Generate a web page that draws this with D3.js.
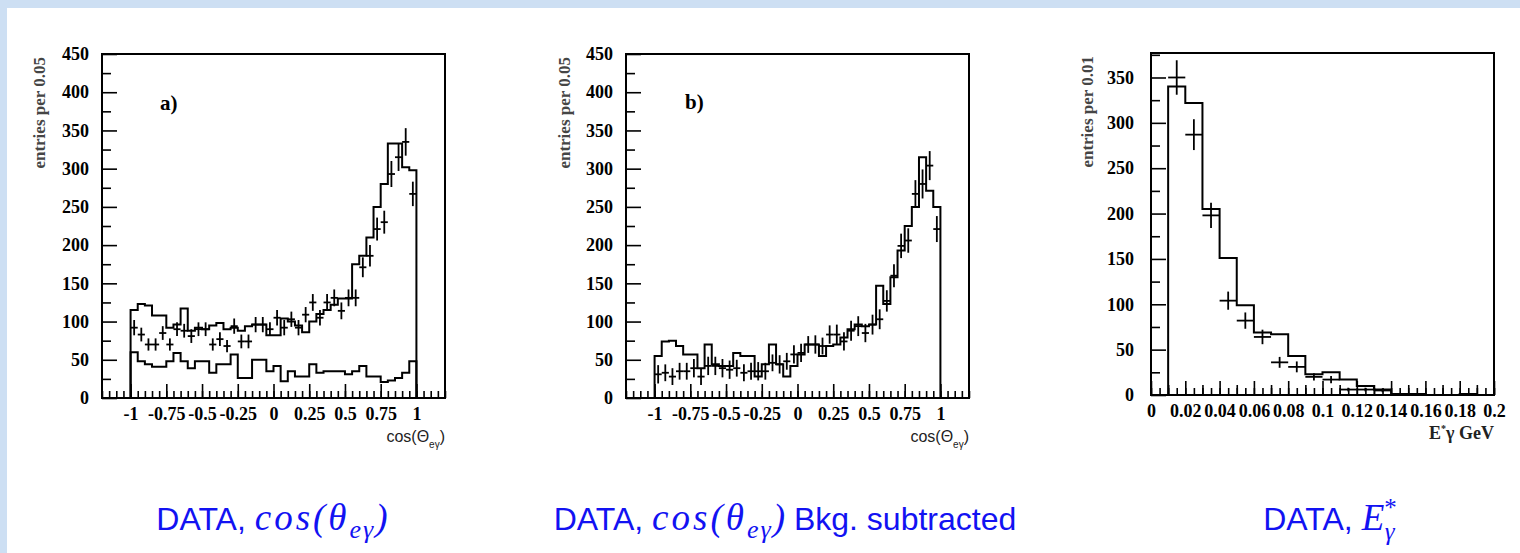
<!DOCTYPE html>
<html>
<head>
<meta charset="utf-8">
<script src="https://cdnjs.cloudflare.com/ajax/libs/d3/7.8.5/d3.min.js"></script>
<style>
  html, body { margin: 0; padding: 0; background: #fff; }
  svg { display: block; }
  .tick text { font-family: "Liberation Serif", serif; font-weight: bold; font-size: 18px; fill: #000; }
  .tick line { stroke: #000; stroke-width: 1.6; }
</style>
</head>
<body>
<svg id="chart" width="1520" height="553"></svg>
<script>
// ---- panel a) cos(theta_e gamma): 40 bins of 0.05 starting at -1
const cosBinLo = -1;
const cosBinW = 0.05;
const mcTotalA = [115,123,121,108,108,92,96,117,88,92, 90,95,98,90,92,88,94,96,96,82,
                  82,104,100,95,86,100,110,115,122,130, 130,175,186,210,250,280,333,333,302,298];
const bkgA = [60,48,44,41,41,48,59,48,39,48, 48,33,44,44,57,26,26,50,50,35,
              42,22,35,28,28,44,33,35,35,35, 31,35,42,28,28,21,23,26,33,48];
const dataA = [92,83,70,70,85,70,90,88,81,90, 90,70,77,68,94,74,74,96,96,90,
               105,92,103,92,109,125,105,125,131,114, 131,131,171,186,221,230,293,315,335,267];
const errA = [10,9,8,8,9,8,9,9,9,9, 9,8,9,8,10,9,9,10,10,9,
              10,10,10,10,10,11,10,11,11,11, 11,11,13,14,15,15,17,18,18,16];

// ---- panel b) background subtracted
const mcB = [55,74,75,68,57,57,39,70,44,42, 42,59,55,55,28,44,70,44,28,42,
             57,70,70,55,68,70,79,90,96,94, 96,147,123,158,193,225,250,315,271,250];
const dataB = [31,33,28,35,35,39,28,42,42,39, 37,39,33,35,35,35,46,44,48,57,
               59,70,70,68,83,83,74,88,94,85, 96,103,127,160,199,206,267,280,304,221];
const errB = [12,11,11,11,11,12,11,12,12,12, 12,11,11,11,12,11,11,12,11,12,
              12,11,12,11,12,13,12,13,13,12, 13,13,14,15,16,16,18,19,19,17];

// ---- panel c) E*gamma: 20 bins of 0.01 starting at 0
const eBinLo = 0;
const eBinW = 0.01;
const mcC = [0,340,322,205,151,99,69,67,43,23, 25,17,10,6,1,1,0,0,1,0];
const dataC = [null,350,287,198,104,82,64,36,31,20, 17,6,6,5,null,null,null,null,null,null];
const errC = [null,19,17,14,10,9,8,6,6,4, 4,2,2,2,null,null,null,null,null,null];

// ---- ticks and labels
const cosTicks = [-1,-0.75,-0.5,-0.25,0,0.25,0.5,0.75,1];
const cosYTicks = [0,50,100,150,200,250,300,350,400,450];
const eTicks = [0,0.02,0.04,0.06,0.08,0.1,0.12,0.14,0.16,0.18,0.2];
const eYTicks = [0,50,100,150,200,250,300,350];
const captions = ["DATA, ", "Bkg. subtracted"];

const svg = d3.select("#chart");

// slide background: light blue strip on top and left
svg.append("rect").attr("width", 1520).attr("height", 553).attr("fill", "#cddff3");
svg.append("rect").attr("x", 7).attr("y", 8).attr("width", 1513).attr("height", 545).attr("fill", "#fff");

function histPath(x, y, lo, w, vals) {
  const pts = [[lo, 0]];
  vals.forEach((v, i) => pts.push([lo + i * w, v]));
  pts.push([lo + vals.length * w, vals[vals.length - 1]]);
  pts.push([lo + vals.length * w, 0]);
  return d3.line().x(d => x(d[0])).y(d => y(d[1])).curve(d3.curveStepAfter)(pts);
}

function drawPanel(p) {
  const g = svg.append("g").attr("transform", `translate(${p.left},${p.top})`);
  const x = d3.scaleLinear().domain(p.xDomain).range([0, p.w]);
  const y = d3.scaleLinear().domain(p.yDomain).range([p.h, 0]);

  // minor / medium ticks first
  p.xMinor.forEach(m => {
    g.append("g").attr("transform", `translate(0,${p.h})`)
      .call(d3.axisBottom(x).tickValues(m.values).tickSize(-m.len).tickSizeOuter(0).tickFormat(""))
      .call(a => a.select(".domain").remove());
  });
  g.append("g").attr("transform", `translate(0,${p.h})`)
    .call(d3.axisBottom(x).tickValues(p.xTicks).tickSize(-14).tickSizeOuter(0).tickPadding(9).tickFormat(d => String(d)))
    .call(a => a.select(".domain").remove());

  g.append("g")
    .call(d3.axisLeft(y).tickValues(p.yMinor).tickSize(-9).tickSizeOuter(0).tickFormat(""))
    .call(a => a.select(".domain").remove());
  g.append("g")
    .call(d3.axisLeft(y).tickValues(p.yTicks).tickSize(-15).tickSizeOuter(0).tickPadding(p.yPad).tickFormat(d => String(d)))
    .call(a => a.select(".domain").remove());

  // histograms
  p.hists.forEach(h => {
    g.append("path").attr("d", histPath(x, y, p.binLo, p.binW, h))
      .attr("fill", "none").attr("stroke", "#000").attr("stroke-width", 2);
  });

  // data crosses
  const pts = p.data.map((v, i) => ({ v, e: p.err[i], c: p.binLo + (i + 0.5) * p.binW }))
    .filter(d => d.v !== null);
  const cr = g.append("g").attr("stroke", "#000").attr("stroke-width", 1.8);
  cr.selectAll("line.h").data(pts).join("line").attr("class", "h")
    .attr("x1", d => x(d.c - p.binW / 2)).attr("x2", d => x(d.c + p.binW / 2))
    .attr("y1", d => y(d.v)).attr("y2", d => y(d.v));
  cr.selectAll("line.v").data(pts).join("line").attr("class", "v")
    .attr("x1", d => x(d.c)).attr("x2", d => x(d.c))
    .attr("y1", d => y(d.v - d.e)).attr("y2", d => y(d.v + d.e));

  // frame
  g.append("rect").attr("width", p.w).attr("height", p.h)
    .attr("fill", "none").attr("stroke", "#000").attr("stroke-width", 2);

  // y title
  g.append("text")
    .attr("transform", `translate(${p.yTitleX},3) rotate(-90)`)
    .attr("text-anchor", "end")
    .style("font-family", "Liberation Serif, serif").style("font-weight", "bold")
    .style("font-size", "17px").style("fill", "#454545")
    .text(p.yTitle);

  // x title
  const xt = g.append("text").attr("x", p.w).attr("y", p.h + 44).attr("text-anchor", "end");
  if (p.xTitle === "cos") {
    xt.style("font-family", "Liberation Sans, sans-serif").style("font-size", "16px").style("fill", "#222");
    xt.append("tspan").text("cos(\u0398");
    xt.append("tspan").attr("dy", 6).style("font-size", "10px").text("e\u03b3");
    xt.append("tspan").attr("dy", -6).text(")");
  } else {
    xt.style("font-family", "Liberation Serif, serif").style("font-weight", "bold")
      .style("font-size", "18px").style("fill", "#222");
    xt.append("tspan").text("E");
    xt.append("tspan").attr("dy", -7).style("font-size", "10px").text("*");
    xt.append("tspan").attr("dy", 7).text("\u03b3 GeV");
  }

  if (p.label) {
    g.append("text").attr("x", p.label.x).attr("y", p.label.y)
      .style("font-family", "Liberation Serif, serif").style("font-weight", "bold")
      .style("font-size", "21px").text(p.label.t);
  }
}

const cosMinor = [{ values: d3.range(-1.2, 1.2001, 0.05), len: 7 }];
const cosYMinor = d3.range(25, 450, 50);

drawPanel({
  left: 102, top: 54, w: 343, h: 344,
  xDomain: [-1.2, 1.2], yDomain: [0, 450],
  xTicks: cosTicks, xMinor: cosMinor, yTicks: cosYTicks, yMinor: cosYMinor, yPad: 13,
  binLo: cosBinLo, binW: cosBinW,
  hists: [mcTotalA, bkgA], data: dataA, err: errA,
  yTitle: "entries per 0.05", yTitleX: -57, xTitle: "cos",
  label: { t: "a)", x: 58, y: 56 }
});

drawPanel({
  left: 626, top: 54, w: 343, h: 344,
  xDomain: [-1.2, 1.2], yDomain: [0, 450],
  xTicks: cosTicks, xMinor: cosMinor, yTicks: cosYTicks, yMinor: cosYMinor, yPad: 13,
  binLo: cosBinLo, binW: cosBinW,
  hists: [mcB], data: dataB, err: errB,
  yTitle: "entries per 0.05", yTitleX: -56, xTitle: "cos",
  label: { t: "b)", x: 59, y: 55 }
});

drawPanel({
  left: 1151, top: 53, w: 343, h: 342,
  xDomain: [0, 0.2], yDomain: [0, 377],
  xTicks: eTicks,
  xMinor: [{ values: d3.range(0, 0.2001, 0.005), len: 7 }, { values: d3.range(0.01, 0.2, 0.02), len: 10 }],
  yTicks: eYTicks, yMinor: d3.range(25, 377, 50), yPad: 17,
  binLo: eBinLo, binW: eBinW,
  hists: [mcC], data: dataC, err: errC,
  yTitle: "entries per 0.01", yTitleX: -58, xTitle: "E",
  label: null
});

// blue captions under each panel
function caption(cx, withBkg, energy) {
  const t = svg.append("text").attr("x", cx).attr("y", 530).attr("text-anchor", "middle")
    .style("fill", "#1212f2");
  const sans = "Liberation Sans, Arial, sans-serif";
  const serif = "Liberation Serif, serif";
  t.append("tspan").style("font-family", sans).style("font-size", "32px").text(captions[0]);
  if (!energy) {
    t.append("tspan").style("font-family", serif).style("font-style", "italic")
      .style("font-size", "37px").style("letter-spacing", "3px").text("cos(\u03b8");
    t.append("tspan").attr("dy", 8).style("font-family", serif).style("font-style", "italic")
      .style("font-size", "26px").style("letter-spacing", "2px").text("e\u03b3");
    t.append("tspan").attr("dy", -8).style("font-family", serif).style("font-style", "italic")
      .style("font-size", "37px").text(")");
    if (withBkg) {
      t.append("tspan").style("font-family", sans).style("font-size", "32px").text(" " + captions[1]);
    }
  } else {
    t.append("tspan").style("font-family", serif).style("font-style", "italic")
      .style("font-size", "37px").text("E");
    t.append("tspan").attr("dy", -14).style("font-family", serif)
      .style("font-size", "25px").text("*");
    t.append("tspan").attr("dx", -12).attr("dy", 24).style("font-family", serif).style("font-style", "italic")
      .style("font-size", "25px").text("\u03b3");
  }
}
caption(272, false, false);
caption(785, true, false);
caption(1330, false, true);
</script>
</body>
</html>
